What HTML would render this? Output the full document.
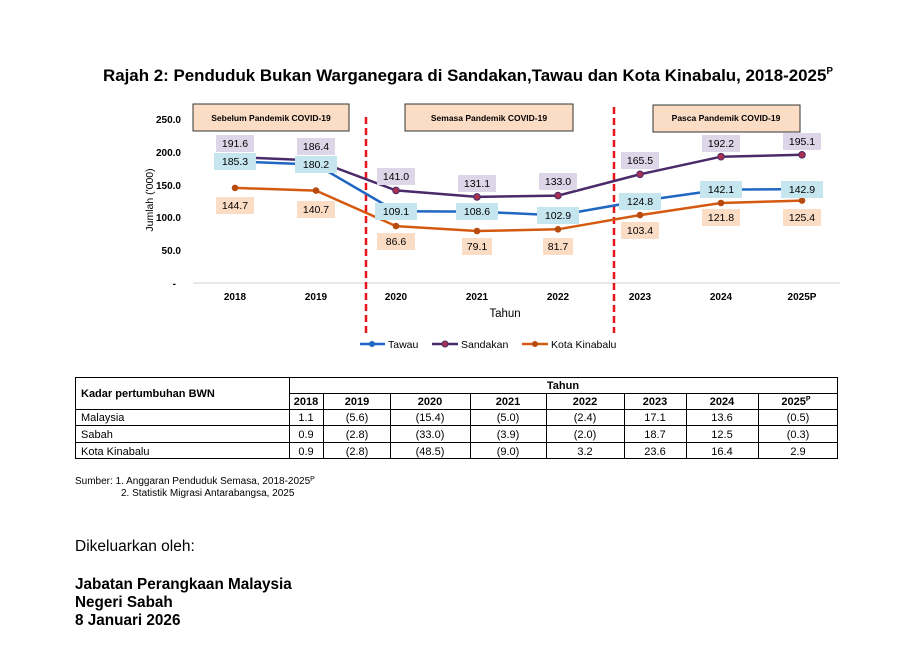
<!DOCTYPE html>
<html><head><meta charset="utf-8"><style>
body{margin:0;background:#fff;width:915px;height:654px;overflow:hidden;font-family:"Liberation Sans",Arial,sans-serif;}
svg{position:absolute;left:0;top:0}
</style></head><body>
<svg width="915" height="654" xmlns="http://www.w3.org/2000/svg" font-family="Liberation Sans, Arial, sans-serif">
<text x="468" y="81" font-size="17" font-weight="bold" text-anchor="middle" textLength="730" lengthAdjust="spacingAndGlyphs">Rajah 2: Penduduk Bukan Warganegara di Sandakan,Tawau dan Kota Kinabalu, 2018-2025<tspan font-size="10" dy="-7">P</tspan></text>
<g font-size="8.5" font-weight="bold" text-anchor="middle">
<rect x="193" y="104" width="156" height="27" fill="#fbdcc5" stroke="#333"/><text x="271" y="121">Sebelum Pandemik COVID-19</text>
<rect x="405" y="104" width="168" height="27" fill="#fbdcc5" stroke="#333"/><text x="489" y="121">Semasa Pandemik COVID-19</text>
<rect x="653" y="105" width="147" height="27" fill="#fbdcc5" stroke="#333"/><text x="726" y="121">Pasca Pandemik COVID-19</text>
</g>
<g font-size="10" font-weight="bold" text-anchor="end">
<text x="181" y="123">250.0</text><text x="181" y="156">200.0</text><text x="181" y="189">150.0</text>
<text x="181" y="221">100.0</text><text x="181" y="254">50.0</text><text x="176" y="287">-</text>
</g>
<text transform="translate(153,200) rotate(-90)" font-size="10.5" text-anchor="middle">Jumlah ('000)</text>
<line x1="193" y1="283" x2="840" y2="283" stroke="#d0d0d0" stroke-width="1"/>
<g font-size="10" font-weight="bold" text-anchor="middle">
<text x="235" y="300">2018</text><text x="316" y="300">2019</text><text x="396" y="300">2020</text><text x="477" y="300">2021</text>
<text x="558" y="300">2022</text><text x="640" y="300">2023</text><text x="721" y="300">2024</text><text x="802" y="300">2025P</text>
</g>
<text x="505" y="317" font-size="11.5" text-anchor="middle">Tahun</text>
<line x1="366" y1="117" x2="366" y2="333" stroke="#e8141c" stroke-width="2.5" stroke-dasharray="7,4"/>
<line x1="614" y1="107" x2="614" y2="333" stroke="#e8141c" stroke-width="2.5" stroke-dasharray="7,4"/>
<polyline fill="none" stroke="#1f67c2" stroke-width="2.5" points="235,161.3 316,164.6 396,211.3 477,211.6 558,215.4 640,201 721,189.6 802,189.1"/>
<polyline fill="none" stroke="#4b2a6a" stroke-width="2.5" points="235,157.1 316,160.5 396,190.4 477,196.9 558,195.6 640,174.3 721,156.7 802,154.8"/>
<polyline fill="none" stroke="#d35a10" stroke-width="2.5" points="235,187.9 316,190.6 396,226.1 477,231 558,229.3 640,215.1 721,203 802,200.6"/>
<g fill="#a83050" stroke="#4b2a6a" stroke-width="1">
<circle cx="235" cy="157.1" r="3.3"/><circle cx="316" cy="160.5" r="3.3"/><circle cx="396" cy="190.4" r="3.3"/><circle cx="477" cy="196.9" r="3.3"/><circle cx="558" cy="195.6" r="3.3"/><circle cx="640" cy="174.3" r="3.3"/><circle cx="721" cy="156.7" r="3.3"/><circle cx="802" cy="154.8" r="3.3"/>
</g>
<g fill="#b84a0e">
<circle cx="235" cy="187.9" r="3.3"/><circle cx="316" cy="190.6" r="3.3"/><circle cx="396" cy="226.1" r="3.3"/><circle cx="477" cy="231" r="3.3"/><circle cx="558" cy="229.3" r="3.3"/><circle cx="640" cy="215.1" r="3.3"/><circle cx="721" cy="203" r="3.3"/><circle cx="802" cy="200.6" r="3.3"/>
</g>
<g font-size="10.5" text-anchor="middle">
<g fill="#ddd6e8">
<rect x="216" y="135" width="38" height="17"/><rect x="297" y="138" width="38" height="17"/><rect x="377" y="168" width="38" height="17"/><rect x="458" y="175" width="38" height="17"/><rect x="539" y="173" width="38" height="17"/><rect x="621" y="152" width="38" height="17"/><rect x="702" y="135" width="38" height="17"/><rect x="783" y="133" width="38" height="17"/>
</g>
<g fill="#c5e6ef">
<rect x="214" y="153" width="42" height="17"/><rect x="295" y="156" width="42" height="17"/><rect x="375" y="203" width="42" height="17"/><rect x="456" y="203" width="42" height="17"/><rect x="537" y="207" width="42" height="17"/><rect x="619" y="193" width="42" height="17"/><rect x="700" y="181" width="42" height="17"/><rect x="781" y="181" width="42" height="17"/>
</g>
<g fill="#fbdcc5">
<rect x="216" y="197" width="38" height="17"/><rect x="297" y="201" width="38" height="17"/><rect x="377" y="233" width="38" height="17"/><rect x="462" y="238" width="30" height="17"/><rect x="543" y="238" width="30" height="17"/><rect x="621" y="222" width="38" height="17"/><rect x="702" y="209" width="38" height="17"/><rect x="783" y="209" width="38" height="17"/>
</g>
<text x="235" y="147">191.6</text><text x="316" y="150">186.4</text><text x="396" y="180">141.0</text><text x="477" y="187">131.1</text><text x="558" y="185">133.0</text><text x="640" y="164">165.5</text><text x="721" y="147">192.2</text><text x="802" y="145">195.1</text>
<text x="235" y="165">185.3</text><text x="316" y="168">180.2</text><text x="396" y="215">109.1</text><text x="477" y="215">108.6</text><text x="558" y="219">102.9</text><text x="640" y="205">124.8</text><text x="721" y="193">142.1</text><text x="802" y="193">142.9</text>
<text x="235" y="209">144.7</text><text x="316" y="213">140.7</text><text x="396" y="245">86.6</text><text x="477" y="250">79.1</text><text x="558" y="250">81.7</text><text x="640" y="234">103.4</text><text x="721" y="221">121.8</text><text x="802" y="221">125.4</text>
</g>
<g font-size="10.5">
<line x1="360" y1="344" x2="385" y2="344" stroke="#1f67c2" stroke-width="2.5"/><circle cx="372" cy="344" r="3" fill="#1f67c2"/><text x="388" y="348">Tawau</text>
<line x1="432" y1="344" x2="458" y2="344" stroke="#4b2a6a" stroke-width="2.5"/><circle cx="445" cy="344" r="3" fill="#a83050" stroke="#4b2a6a"/><text x="461" y="348">Sandakan</text>
<line x1="522" y1="344" x2="548" y2="344" stroke="#d35a10" stroke-width="2.5"/><circle cx="535" cy="344" r="3" fill="#b84a0e"/><text x="551" y="348">Kota Kinabalu</text>
</g>
<g stroke="#000" stroke-width="1" fill="none">
<rect x="75.5" y="377.5" width="762" height="81"/>
<line x1="289.5" y1="377" x2="289.5" y2="459"/>
<line x1="289" y1="393.5" x2="838" y2="393.5"/>
<line x1="75" y1="409.5" x2="838" y2="409.5"/>
<line x1="75" y1="425.5" x2="838" y2="425.5"/>
<line x1="75" y1="442.5" x2="838" y2="442.5"/>
<line x1="323.5" y1="393" x2="323.5" y2="459"/><line x1="390.5" y1="393" x2="390.5" y2="459"/><line x1="470.5" y1="393" x2="470.5" y2="459"/><line x1="546.5" y1="393" x2="546.5" y2="459"/><line x1="624.5" y1="393" x2="624.5" y2="459"/><line x1="686.5" y1="393" x2="686.5" y2="459"/><line x1="758.5" y1="393" x2="758.5" y2="459"/>
</g>
<g font-size="11">
<text x="81" y="397" font-weight="bold">Kadar pertumbuhan BWN</text>
<text x="563" y="389" font-weight="bold" text-anchor="middle">Tahun</text>
<g font-weight="bold" text-anchor="middle">
<text x="306" y="405">2018</text><text x="357" y="405">2019</text><text x="430" y="405">2020</text><text x="508" y="405">2021</text><text x="585" y="405">2022</text><text x="655" y="405">2023</text><text x="722" y="405">2024</text><text x="796" y="405">2025<tspan font-size="7" dy="-4">P</tspan></text>
</g>
<text x="81" y="421">Malaysia</text><text x="81" y="438">Sabah</text><text x="81" y="455">Kota Kinabalu</text>
<g text-anchor="middle">
<text x="306" y="421">1.1</text><text x="357" y="421">(5.6)</text><text x="430" y="421">(15.4)</text><text x="508" y="421">(5.0)</text><text x="585" y="421">(2.4)</text><text x="655" y="421">17.1</text><text x="722" y="421">13.6</text><text x="798" y="421">(0.5)</text>
<text x="306" y="438">0.9</text><text x="357" y="438">(2.8)</text><text x="430" y="438">(33.0)</text><text x="508" y="438">(3.9)</text><text x="585" y="438">(2.0)</text><text x="655" y="438">18.7</text><text x="722" y="438">12.5</text><text x="798" y="438">(0.3)</text>
<text x="306" y="455">0.9</text><text x="357" y="455">(2.8)</text><text x="430" y="455">(48.5)</text><text x="508" y="455">(9.0)</text><text x="585" y="455">3.2</text><text x="655" y="455">23.6</text><text x="722" y="455">16.4</text><text x="798" y="455">2.9</text>
</g>
</g>
<g font-size="10">
<text x="75" y="484">Sumber: 1. Anggaran Penduduk Semasa, 2018-2025<tspan font-size="7" dy="-3">P</tspan></text>
<text x="121" y="496">2. Statistik Migrasi Antarabangsa, 2025</text>
</g>
<text x="75" y="551" font-size="15.5">Dikeluarkan oleh:</text>
<g font-size="15.3" font-weight="bold">
<text x="75" y="589">Jabatan Perangkaan Malaysia</text>
<text x="75" y="607">Negeri Sabah</text>
<text x="75" y="625">8 Januari 2026</text>
</g>
</svg>
</body></html>
